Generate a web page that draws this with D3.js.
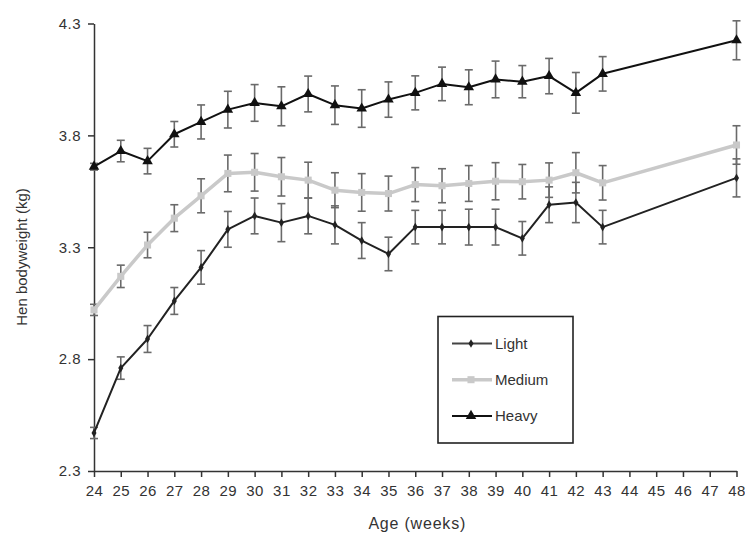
<!DOCTYPE html>
<html>
<head>
<meta charset="utf-8">
<script src="https://cdn.jsdelivr.net/npm/d3@7/dist/d3.min.js"></script>
<style>
  body { margin: 0; background: #fff; }
  svg { display: block; font-family: "Liberation Sans", Arial, sans-serif; }
</style>
</head>
<body>
<svg id="chart" width="745" height="533"></svg>
<script>
// values
const weeks = [24, 25, 26, 27, 28, 29, 30, 31, 32, 33, 34, 35, 36, 37, 38, 39, 40, 41, 42, 43, 48]
const light = [2.47, 2.76, 2.89, 3.06, 3.21, 3.38, 3.44, 3.41, 3.44, 3.40, 3.33, 3.27, 3.39, 3.39, 3.39, 3.39, 3.34, 3.49, 3.50, 3.39, 3.61]
const lightErr = [0.025, 0.05, 0.06, 0.06, 0.075, 0.08, 0.08, 0.085, 0.08, 0.085, 0.08, 0.075, 0.075, 0.075, 0.08, 0.08, 0.075, 0.08, 0.09, 0.075, 0.085]
const medium = [3.02, 3.17, 3.31, 3.43, 3.53, 3.63, 3.635, 3.615, 3.60, 3.555, 3.545, 3.54, 3.58, 3.575, 3.585, 3.595, 3.593, 3.60, 3.633, 3.588, 3.757]
const mediumErr = [0.025, 0.05, 0.057, 0.06, 0.076, 0.082, 0.084, 0.086, 0.08, 0.078, 0.084, 0.078, 0.076, 0.076, 0.08, 0.083, 0.077, 0.077, 0.09, 0.077, 0.086]
const heavy = [3.66, 3.73, 3.685, 3.805, 3.86, 3.915, 3.945, 3.93, 3.985, 3.935, 3.92, 3.96, 3.99, 4.03, 4.015, 4.05, 4.04, 4.065, 3.99, 4.075, 4.225]
const heavyErr = [0.015, 0.048, 0.057, 0.057, 0.076, 0.082, 0.082, 0.087, 0.08, 0.086, 0.084, 0.079, 0.076, 0.075, 0.078, 0.082, 0.072, 0.079, 0.091, 0.077, 0.087]
const xTicks = d3.range(24, 49)
const yTicks = [2.3, 2.8, 3.3, 3.8, 4.3]

const series = [
  {name: "Medium", values: medium, err: mediumErr, color: "#c9c9c9", width: 3.5, symbol: d3.symbolSquare, size: 50},
  {name: "Light", values: light, err: lightErr, color: "#222", width: 2, symbol: d3.symbolDiamond, size: 22},
  {name: "Heavy", values: heavy, err: heavyErr, color: "#111", width: 2, symbol: d3.symbolTriangle, size: 48}
]
const legendOrder = ["Light", "Medium", "Heavy"]

let svg = d3.select("#chart"),
    margin = {top: 23.5, right: 8.5, bottom: 62, left: 94},
    width = +svg.attr("width"),
    height = +svg.attr("height")

let x = d3.scaleLinear().domain([24, 48]).range([margin.left, width - margin.right])
let y = d3.scaleLinear().domain([2.3, 4.3]).range([height - margin.bottom, margin.top])

// axes
let xAxis = svg.append("g")
    .attr("transform", "translate(0," + (height - margin.bottom) + ")")
    .call(d3.axisBottom(x).tickValues(xTicks).tickFormat(d3.format("d")).tickSize(6).tickSizeOuter(0).tickPadding(8))
let yAxis = svg.append("g")
    .attr("transform", "translate(" + margin.left + ",0)")
    .call(d3.axisLeft(y).tickValues(yTicks).tickFormat(d3.format(".1f")).tickSize(6).tickSizeOuter(0).tickPadding(7))

svg.selectAll(".domain, .tick line").attr("stroke", "#333").attr("stroke-width", 1.5)
svg.selectAll(".tick text").attr("fill", "#333").style("font-size", "15px").style("letter-spacing", "0.5px")

svg.append("text")
    .attr("x", (x(24) + x(48)) / 2 + 2).attr("y", 529)
    .attr("text-anchor", "middle").attr("fill", "#333")
    .style("font-size", "16px").style("letter-spacing", "0.8px")
    .text("Age (weeks)")
svg.append("text")
    .attr("transform", "translate(27," + 257 + ")rotate(-90)")
    .attr("text-anchor", "middle").attr("fill", "#333")
    .style("font-size", "15px")
    .text("Hen bodyweight (kg)")

// error bars
let capW = 4
series.forEach(s => {
  let g = svg.append("g").attr("stroke", "#6a6a6a").attr("stroke-width", 1.6)
  weeks.forEach((w, i) => {
    let cx = x(w), top = y(s.values[i] + s.err[i]), bot = y(s.values[i] - s.err[i])
    g.append("line").attr("x1", cx).attr("x2", cx).attr("y1", top).attr("y2", bot)
    g.append("line").attr("x1", cx - capW).attr("x2", cx + capW).attr("y1", top).attr("y2", top)
    g.append("line").attr("x1", cx - capW).attr("x2", cx + capW).attr("y1", bot).attr("y2", bot)
  })
})

// lines and markers
let line = d3.line().x(d => x(d[0])).y(d => y(d[1]))
series.forEach(s => {
  let pts = weeks.map((w, i) => [w, s.values[i]])
  svg.append("path").datum(pts)
      .attr("d", line).attr("fill", "none")
      .attr("stroke", s.color).attr("stroke-width", s.width).attr("stroke-linejoin", "round")
  svg.append("g").selectAll("path").data(pts).enter().append("path")
      .attr("d", d3.symbol().type(s.symbol).size(s.size))
      .attr("transform", d => "translate(" + x(d[0]) + "," + y(d[1]) + ")")
      .attr("fill", s.color)
})

// legend
let legend = svg.append("g")
legend.append("rect")
    .attr("x", 438).attr("y", 316.5).attr("width", 135).attr("height", 126.5)
    .attr("fill", "#fff").attr("stroke", "#222").attr("stroke-width", 1.6)
legendOrder.forEach((name, i) => {
  let s = series.find(d => d.name == name)
  let ly = 343.5 + i * 36.2
  legend.append("line")
      .attr("x1", 452).attr("x2", 492).attr("y1", ly).attr("y2", ly)
      .attr("stroke", name == "Light" ? "#444" : s.color).attr("stroke-width", s.width)
  legend.append("path")
      .attr("d", d3.symbol().type(s.symbol).size(s.size))
      .attr("transform", "translate(471," + ly + ")")
      .attr("fill", s.color)
  legend.append("text")
      .attr("x", 495).attr("y", ly).attr("dy", "0.36em")
      .attr("fill", "#333").style("font-size", "15px")
      .text(name)
})
</script>
</body>
</html>
